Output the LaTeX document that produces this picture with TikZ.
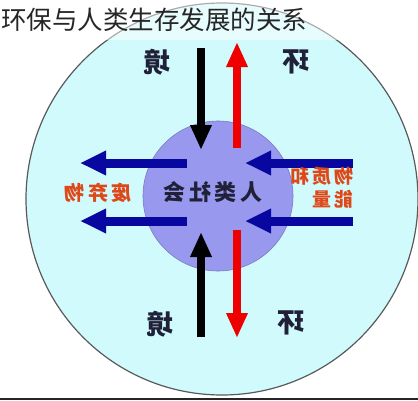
\documentclass[tikz,border=0pt]{standalone}
\usepackage{fontspec}
\setmainfont{Noto Sans CJK SC}
\usetikzlibrary{arrows.meta}

\definecolor{envcyan}{RGB}{208,250,252}
\definecolor{societyblue}{RGB}{152,152,238}
\definecolor{flowblue}{RGB}{8,8,160}
\definecolor{flowred}{RGB}{238,0,0}
\definecolor{labelred}{RGB}{222,72,24}
\definecolor{inkdark}{RGB}{32,32,56}

\tikzset{
  fatarrow/.style={line width=8pt, -{Triangle[length=25pt,width=20pt]}},
  sidearrow/.style={line width=9pt, flowblue, -{Triangle[length=26pt,width=23pt]}},
  mirrored/.style={xscale=-1, inner sep=0pt, font=\bfseries\fontsize{#1}{#1}\selectfont},
}

\begin{document}
\begin{tikzpicture}[x=1pt, y=-1pt]
  \useasboundingbox (0,0) rectangle (418,400);

  % environment and society
  \draw[fill=envcyan, draw=black!65, line width=1.2pt] (222,199) circle (196);
  \fill[white, opacity=0.5] (0,0) rectangle (418,40);
  \draw[fill=societyblue, draw=societyblue!80!black, line width=0.6pt] (218,196) circle (75);
  \draw[black!85, line width=1.5pt] (0,399) -- (418,399);

  % title
  \node[anchor=west, inner sep=0pt, text=black!85, font=\fontsize{25.5}{26}\selectfont]
    (title) at (1,20) {环保与人类生存发展的关系};

  % end points of the flows
  \coordinate (blacktop) at (201,48);
  \coordinate (blacktopin) at (201,150);
  \coordinate (redtopin) at (237,148);
  \coordinate (redtop) at (237,42);
  \coordinate (blackbot) at (201,337);
  \coordinate (blackbotin) at (201,232);
  \coordinate (redbotin) at (237,230);
  \coordinate (redbot) at (237,338);
  \coordinate (wasteupin) at (187,163);
  \coordinate (wasteup) at (80,163);
  \coordinate (wastelowin) at (187,221);
  \coordinate (wastelow) at (80,221);
  \coordinate (supplyup) at (353,163);
  \coordinate (supplyupin) at (245,163);
  \coordinate (supplylow) at (353,221);
  \coordinate (supplylowin) at (245,221);

  \draw[fatarrow, black] (blacktop) -- (blacktopin);
  \draw[fatarrow, flowred] (redtopin) -- (redtop);
  \draw[fatarrow, black] (blackbot) -- (blackbotin);
  \draw[fatarrow, flowred] (redbotin) -- (redbot);
  \draw[sidearrow] (wasteupin) -- (wasteup);
  \draw[sidearrow] (wastelowin) -- (wastelow);
  \draw[sidearrow] (supplyup) -- (supplyupin);
  \draw[sidearrow] (supplylow) -- (supplylowin);

  % labels (mirrored as in the picture)
  \node[mirrored=27, text=inkdark] (jingtop) at (157,62) {境};
  \node[mirrored=27, text=inkdark] (huantop) at (296,62) {环};
  \node[mirrored=27, text=inkdark] (jingbot) at (160,324) {境};
  \node[mirrored=27, text=inkdark] (huanbot) at (291,323) {环};
  \node[mirrored=22, text=inkdark] (society) at (213,192) {人\,类\,社\,会};
  \node[mirrored=20, text=labelred] (waste) at (98,193) {废\,弃\,物};
  \node[mirrored=19, text=labelred, align=left] (supply) at (322,188)
    {物\,质\,和\\[4pt]能\,量};
\end{tikzpicture}
\end{document}
